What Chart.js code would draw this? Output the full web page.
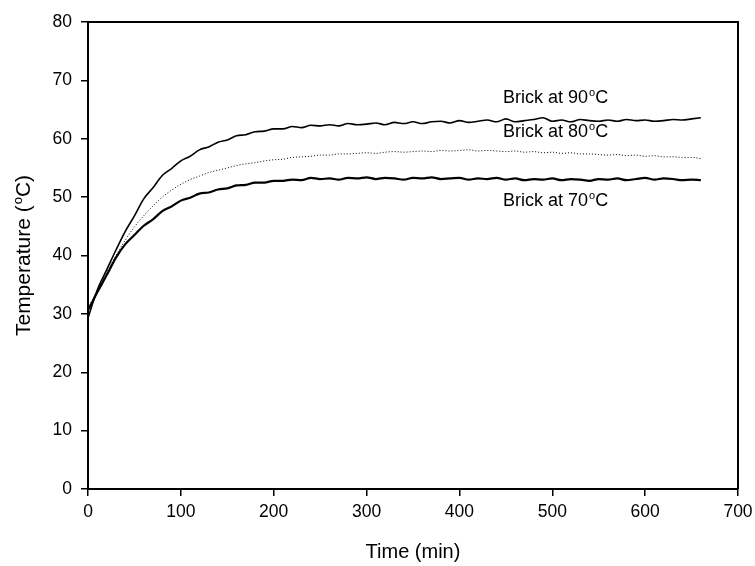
<!DOCTYPE html>
<html>
<head>
<meta charset="utf-8">
<script src="https://cdn.jsdelivr.net/npm/chart.js@4"></script>
<style>
  html, body { margin: 0; padding: 0; background: #fff; }
  #wrap { width: 755px; height: 566px; }
</style>
</head>
<body>
<div id="wrap"><canvas id="chart"></canvas></div>
<script>
// time in minutes
const times = [];
for (let t = 0; t <= 660; t += 10) times.push(t);

const brick90 = [
    29.3, 34.1, 37.5, 40.9, 44.1, 46.8, 49.7, 51.6, 53.7, 54.9,
    56.2, 57.0, 58.1, 58.6, 59.4, 59.8, 60.5, 60.7, 61.2, 61.3,
    61.7, 61.7, 62.1, 61.9, 62.3, 62.2, 62.4, 62.2, 62.6, 62.4,
    62.5, 62.7, 62.4, 62.8, 62.6, 62.9, 62.6, 62.9, 63.0, 62.7,
    63.1, 62.8, 63.0, 63.2, 62.9, 63.4, 62.9, 63.1, 63.3, 63.6,
    63.0, 63.2, 62.9, 63.3, 63.1, 63.0, 63.2, 63.0, 63.3, 63.1,
    63.2, 63.0, 63.1, 63.3, 63.2, 63.4, 63.6
];

const brick80 = [
    31.0, 34.0, 37.0, 40.0, 42.6, 44.9, 46.8, 48.5, 50.0, 51.2,
    52.2, 53.0, 53.6, 54.2, 54.6, 55.0, 55.4, 55.7, 55.9, 56.2,
    56.4, 56.5, 56.8, 56.9, 57.0, 57.2, 57.2, 57.4, 57.4, 57.5,
    57.6, 57.5, 57.7, 57.8, 57.7, 57.8, 57.9, 57.8, 58.0, 57.9,
    58.0, 58.1, 57.9, 58.0, 57.9, 57.8, 57.9, 57.7, 57.8, 57.6,
    57.7, 57.5, 57.6, 57.4, 57.4, 57.3, 57.2, 57.3, 57.1, 57.2,
    57.0, 57.1, 56.9, 56.9, 56.8, 56.8, 56.6
];

const brick70 = [
    30.6, 33.7, 36.6, 39.6, 41.9, 43.5, 45.1, 46.2, 47.6, 48.4,
    49.4, 49.9, 50.6, 50.8, 51.3, 51.5, 52.0, 52.1, 52.5, 52.5,
    52.8, 52.8, 53.0, 52.9, 53.3, 53.1, 53.2, 53.0, 53.3, 53.2,
    53.4, 53.1, 53.3, 53.2, 53.0, 53.3, 53.2, 53.4, 53.1, 53.2,
    53.3, 53.0, 53.2, 53.1, 53.3, 53.0, 53.2, 52.9, 53.1, 53.0,
    53.2, 52.9, 53.1, 53.0, 52.8, 53.1, 53.0, 53.2, 52.9, 53.1,
    53.3, 53.0, 53.2, 53.1, 52.9, 53.0, 52.9
];

// curve labels: text, x (min), y (°C baseline)
const labelTexts = ["Brick at 90", "Brick at 80", "Brick at 70"];
const labelX = [447, 447, 447];
const labelY = [66.1, 60.35, 48.4];

function toPoints(values) {
    return values.map((v, i) => ({ x: times[i], y: v }));
}

const FONT = "'Liberation Sans', Arial, sans-serif";

// draws "before" + superscript o + "after" starting at x, y (baseline)
function degText(ctx, before, after, x, y, size) {
    ctx.font = size + 'px ' + FONT;
    ctx.fillText(before, x, y);
    x += ctx.measureText(before).width + 1;
    const small = Math.round(size * 0.6);
    ctx.font = small + 'px ' + FONT;
    ctx.fillText('o', x, y - size * 0.4);
    x += ctx.measureText('o').width;
    ctx.font = size + 'px ' + FONT;
    ctx.fillText(after, x, y);
    return x + ctx.measureText(after).width;
}

function degWidth(ctx, before, after, size) {
    ctx.font = size + 'px ' + FONT;
    let w = ctx.measureText(before).width + ctx.measureText(after).width + 1;
    ctx.font = Math.round(size * 0.6) + 'px ' + FONT;
    return w + ctx.measureText('o').width;
}

// frame round the plot area, curve labels and y title with superscript o
const extras = {
    id: 'extras',
    afterDatasetsDraw(chart) {
        const ctx = chart.ctx;
        const xs = chart.scales.x;
        const ys = chart.scales.y;
        const a = chart.chartArea;
        ctx.save();
        ctx.strokeStyle = '#000';
        ctx.lineWidth = 2;
        ctx.beginPath();
        ctx.moveTo(a.left, a.top);
        ctx.lineTo(a.right, a.top);
        ctx.lineTo(a.right, a.bottom);
        ctx.stroke();

        ctx.fillStyle = '#000';
        ctx.textBaseline = 'alphabetic';
        ctx.textAlign = 'left';
        for (let i = 0; i < labelTexts.length; i++) {
            degText(ctx, labelTexts[i], 'C',
                xs.getPixelForValue(labelX[i]), ys.getPixelForValue(labelY[i]), 18);
        }

        // y axis title
        const size = 21;
        const w = degWidth(ctx, 'Temperature (', 'C)', size);
        ctx.translate(30, (a.top + a.bottom) / 2);
        ctx.rotate(-Math.PI / 2);
        degText(ctx, 'Temperature (', 'C)', -w / 2, 0, size);
        ctx.restore();
    }
};

const config = {
    type: 'line',
    data: {
        datasets: [
            {
                label: 'Brick at 90',
                data: toPoints(brick90),
                borderColor: '#000',
                borderWidth: 1.6,
                pointRadius: 0,
                cubicInterpolationMode: 'monotone',
            },
            {
                label: 'Brick at 80',
                data: toPoints(brick80),
                borderColor: '#000',
                borderWidth: 1,
                borderDash: [1, 2],
                pointRadius: 0,
                cubicInterpolationMode: 'monotone',
            },
            {
                label: 'Brick at 70',
                data: toPoints(brick70),
                borderColor: '#000',
                borderWidth: 2.2,
                pointRadius: 0,
                cubicInterpolationMode: 'monotone',
            },
        ],
    },
    options: {
        responsive: true,
        maintainAspectRatio: false,
        animation: false,
        layout: { padding: { top: 22, right: 17, left: 0, bottom: 0 } },
        plugins: {
            legend: { display: false },
            tooltip: { enabled: false },
        },
        scales: {
            x: {
                type: 'linear',
                min: 0,
                max: 700,
                afterFit(scale) {
                    scale.height = 77;
                    scale.paddingRight = 0;
                    scale.paddingLeft = 0;
                },
                border: { display: true, color: '#000', width: 2 },
                grid: { drawOnChartArea: false, drawTicks: true, tickLength: 7, color: '#000', lineWidth: 1.5 },
                ticks: {
                    stepSize: 100,
                    color: '#000',
                    padding: 6,
                    maxRotation: 0,
                    font: { family: FONT, size: 17.5 },
                },
                title: {
                    display: true,
                    text: 'Time (min)',
                    color: '#000',
                    font: { family: FONT, size: 20 },
                    padding: { top: 0, bottom: 2 },
                },
            },
            y: {
                min: 0,
                max: 80,
                afterFit(scale) {
                    scale.width = 88;
                    scale.paddingTop = 0;
                    scale.paddingBottom = 0;
                },
                border: { display: true, color: '#000', width: 2 },
                grid: { drawOnChartArea: false, drawTicks: true, tickLength: 7, color: '#000', lineWidth: 1.5 },
                ticks: {
                    stepSize: 10,
                    color: '#000',
                    padding: 9,
                    font: { family: FONT, size: 17.5 },
                },
            },
        },
    },
    plugins: [extras],
};

window.myChart = new Chart(document.getElementById('chart'), config);
</script>
</body>
</html>
